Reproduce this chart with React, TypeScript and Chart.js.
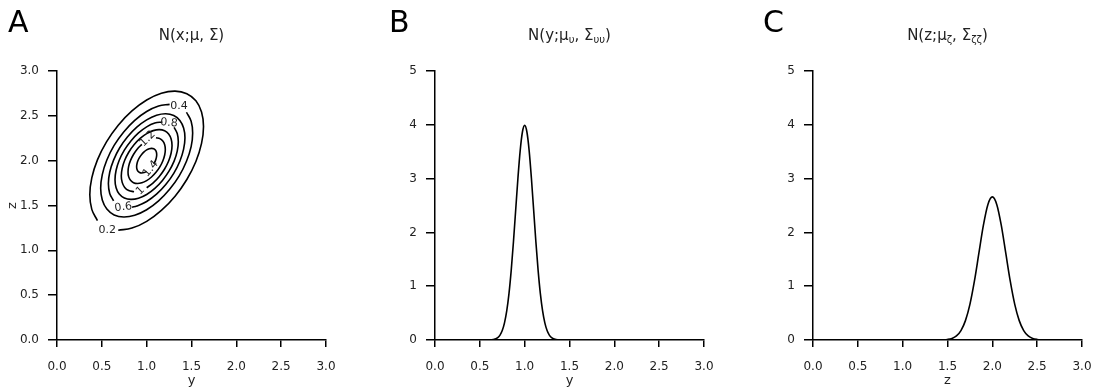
import React, { useEffect, useRef } from 'react';
import { Chart, registerables } from 'chart.js';

Chart.register(...registerables);

// ---------- tick values / labels ----------
const axisTicks = [0, 0.5, 1, 1.5, 2, 2.5, 3];
const axisTickLabels = ['0.0', '0.5', '1.0', '1.5', '2.0', '2.5', '3.0'];
const densityTicks = [0, 1, 2, 3, 4, 5];
const densityTickLabels = ['0', '1', '2', '3', '4', '5'];

// ---------- panel B: density of y ----------
const yValues = [0, 0.5, 0.6, 0.65, 0.7, 0.725, 0.75, 0.775, 0.8, 0.825, 0.85, 0.875, 0.9, 0.925, 0.95, 0.975, 1.0,
  1.025, 1.05, 1.075, 1.1, 1.125, 1.15, 1.175, 1.2, 1.225, 1.25, 1.275, 1.3, 1.35, 1.4, 1.5, 3.0];
const yDensity = [0, 0, 0.0013, 0.0087, 0.0443, 0.0909, 0.175, 0.3175, 0.54, 0.863, 1.295, 1.826, 2.42, 3.011, 3.521, 3.866, 3.989,
  3.866, 3.521, 3.011, 2.42, 1.826, 1.295, 0.863, 0.54, 0.3175, 0.175, 0.0909, 0.0443, 0.0087, 0.0013, 0, 0];

// ---------- panel C: density of z ----------
const zValues = [0, 1.3, 1.4, 1.45, 1.5, 1.55, 1.6, 1.65, 1.7, 1.75, 1.8, 1.85, 1.9, 1.95, 2.0,
  2.05, 2.1, 2.15, 2.2, 2.25, 2.3, 2.35, 2.4, 2.45, 2.5, 2.55, 2.6, 2.7, 3.0];
const zDensity = [0, 0, 0.0009, 0.0032, 0.0103, 0.0296, 0.076, 0.1748, 0.36, 0.663, 1.093, 1.613, 2.13, 2.516, 2.66,
  2.516, 2.13, 1.613, 1.093, 0.663, 0.36, 0.1748, 0.076, 0.0296, 0.0103, 0.0032, 0.0009, 0, 0];

// ---------- panel A: contour lines, [y, z] pairs ----------
const contourLevels = ['0.2', '0.4', '0.6', '0.8', '1', '1.2', '1.4'];
const contour02 = [[0.683, 1.224], [0.836, 1.248], [1.0, 1.323], [1.164, 1.445], [1.317, 1.604], [1.448, 1.79], [1.549, 1.991],
  [1.612, 2.192], [1.634, 2.38], [1.612, 2.543], [1.549, 2.668], [1.448, 2.747], [1.317, 2.776], [1.164, 2.752], [1.0, 2.677],
  [0.836, 2.555], [0.683, 2.396], [0.552, 2.21], [0.451, 2.009], [0.388, 1.808], [0.366, 1.62], [0.388, 1.457], [0.451, 1.332]];
const contour04 = [[1.256, 2.628], [1.133, 2.609], [1.0, 2.548], [0.867, 2.449], [0.744, 2.32], [0.637, 2.17], [0.556, 2.007],
  [0.505, 1.844], [0.487, 1.692], [0.505, 1.561], [0.556, 1.46], [0.637, 1.395], [0.744, 1.372], [0.867, 1.391], [1.0, 1.452],
  [1.133, 1.551], [1.256, 1.68], [1.363, 1.83], [1.444, 1.993], [1.496, 2.156], [1.513, 2.308], [1.496, 2.439], [1.444, 2.54]];
const contour06 = [[0.837, 1.481], [0.89, 1.494], [1.0, 1.545], [1.11, 1.626], [1.213, 1.734], [1.302, 1.859], [1.37, 1.994],
  [1.412, 2.129], [1.427, 2.256], [1.412, 2.365], [1.37, 2.449], [1.302, 2.503], [1.213, 2.523], [1.11, 2.506], [1.0, 2.455],
  [0.89, 2.374], [0.787, 2.266], [0.698, 2.141], [0.631, 2.006], [0.588, 1.871], [0.573, 1.744], [0.588, 1.635], [0.631, 1.551]];
const contour08 = [[1.176, 2.432], [1.091, 2.419], [1.0, 2.377], [0.909, 2.309], [0.824, 2.22], [0.751, 2.117], [0.694, 2.005],
  [0.659, 1.893], [0.647, 1.788], [0.659, 1.698], [0.694, 1.628], [0.751, 1.584], [0.824, 1.568], [0.909, 1.581], [1.0, 1.623],
  [1.091, 1.691], [1.176, 1.78], [1.249, 1.883], [1.306, 1.995], [1.341, 2.107], [1.353, 2.212], [1.341, 2.302], [1.306, 2.372]];
const contour10 = [[1.0, 1.698], [1.073, 1.752], [1.141, 1.823], [1.2, 1.907], [1.245, 1.996], [1.273, 2.086], [1.283, 2.17],
  [1.273, 2.242], [1.245, 2.298], [1.2, 2.333], [1.141, 2.346], [1.073, 2.335], [1.0, 2.302], [0.927, 2.248], [0.859, 2.177],
  [0.8, 2.094], [0.755, 2.004], [0.727, 1.914], [0.717, 1.83], [0.727, 1.758], [0.755, 1.702], [0.8, 1.667], [0.859, 1.654]];
const contour12 = [[0.946, 2.182], [0.896, 2.13], [0.853, 2.069], [0.82, 2.003], [0.799, 1.937], [0.792, 1.875], [0.799, 1.822],
  [0.82, 1.781], [0.853, 1.754], [0.896, 1.745], [0.946, 1.753], [1.0, 1.778], [1.054, 1.818], [1.104, 1.87], [1.147, 1.931],
  [1.18, 1.997], [1.201, 2.063], [1.208, 2.125], [1.201, 2.178], [1.18, 2.219], [1.147, 2.246], [1.104, 2.255]];
const contour14 = [[1.079, 1.963], [1.097, 1.998], [1.108, 2.034], [1.112, 2.067], [1.108, 2.096], [1.097, 2.118], [1.079, 2.132],
  [1.056, 2.137], [1.029, 2.133], [1.0, 2.12], [0.971, 2.098], [0.944, 2.07], [0.921, 2.037], [0.903, 2.002], [0.892, 1.966],
  [0.888, 1.933], [0.892, 1.904], [0.903, 1.882], [0.921, 1.868], [0.944, 1.863], [0.971, 1.867], [1.0, 1.88]];
const contourLines = [contour02, contour04, contour06, contour08, contour10, contour12, contour14];

// where each contour's label sits (y, z) and its rotation in degrees
const contourLabelY = [0.56, 1.36, 0.74, 1.25, 0.93, 1.01, 1.045];
const contourLabelZ = [1.23, 2.61, 1.48, 2.42, 1.665, 2.245, 1.91];
const contourLabelAngle = [0, 0, -8, 5, -45, -45, -50];

// ---------- styling ----------
const FONT = '"DejaVu Sans", "Liberation Sans", sans-serif';
const INK = '#000';
const TEXT = '#222';

type Seg = { text: string; sub?: boolean };

const titleA: Seg[] = [{ text: 'N(x;μ, Σ)' }];
const titleB: Seg[] = [{ text: 'N(y;μ' }, { text: 'υ', sub: true }, { text: ', Σ' }, { text: 'υυ', sub: true }, { text: ')' }];
const titleC: Seg[] = [{ text: 'N(z;μ' }, { text: 'ζ', sub: true }, { text: ', Σ' }, { text: 'ζζ', sub: true }, { text: ')' }];

type PanelDef = {
  letter: string;
  letterX: number;
  title: Seg[];
  plotLeft: number;
  plotRight: number;
  xTitle: string;
  yTitle?: string;
  yMax: number;
  yTicks: number[];
  yTickLabels: string[];
  datasets: any[];
  contourText?: boolean;
};

const CANVAS_W = 365;
const CANVAS_H = 391;
const PLOT_TOP = 71;
const PLOT_BOTTOM = 340;

function textPlugin(def: PanelDef) {
  return {
    id: 'panelText' + def.letter,
    afterDraw(chart: any) {
      const ctx = chart.ctx as CanvasRenderingContext2D;
      const area = chart.chartArea;
      ctx.save();
      ctx.fillStyle = INK;
      ctx.textAlign = 'left';
      ctx.textBaseline = 'alphabetic';
      ctx.font = `30px ${FONT}`;
      ctx.fillText(def.letter, def.letterX, 32);

      const mainFont = `15px ${FONT}`;
      const subFont = `10px ${FONT}`;
      let total = 0;
      for (const s of def.title) {
        ctx.font = s.sub ? subFont : mainFont;
        total += ctx.measureText(s.text).width;
      }
      let x = (area.left + area.right) / 2 - total / 2;
      ctx.fillStyle = TEXT;
      for (const s of def.title) {
        ctx.font = s.sub ? subFont : mainFont;
        ctx.fillText(s.text, x, s.sub ? 43 : 40);
        x += ctx.measureText(s.text).width;
      }

      if (def.contourText) {
        const xs = chart.scales.x;
        const ys = chart.scales.y;
        ctx.font = `11px ${FONT}`;
        ctx.textAlign = 'center';
        ctx.textBaseline = 'middle';
        contourLevels.forEach((lab, i) => {
          const px = xs.getPixelForValue(contourLabelY[i]);
          const py = ys.getPixelForValue(contourLabelZ[i]);
          ctx.save();
          ctx.translate(px, py);
          ctx.rotate((contourLabelAngle[i] * Math.PI) / 180);
          ctx.fillText(lab, 0, 0);
          ctx.restore();
        });
      }
      ctx.restore();
    },
  };
}

function makeConfig(def: PanelDef): any {
  const tickFont = { family: FONT, size: 12 };
  return {
    type: 'scatter',
    data: { datasets: def.datasets },
    options: {
      responsive: false,
      animation: false,
      events: [],
      layout: { padding: { left: 0, top: PLOT_TOP, right: CANVAS_W - def.plotRight, bottom: 0 } },
      plugins: { legend: { display: false }, tooltip: { enabled: false }, title: { display: false } },
      elements: { point: { radius: 0 } },
      scales: {
        x: {
          type: 'linear',
          min: 0,
          max: 3,
          afterBuildTicks: (s: any) => {
            s.ticks = axisTicks.map((value) => ({ value }));
          },
          afterFit: (s: any) => {
            s.height = CANVAS_H - PLOT_BOTTOM;
            s.paddingLeft = 0;
            s.paddingRight = 0;
          },
          ticks: {
            callback: (_v: any, i: number) => axisTickLabels[i],
            font: tickFont,
            color: TEXT,
            padding: 13,
            maxRotation: 0,
            autoSkip: false,
          },
          grid: { display: true, drawOnChartArea: false, drawTicks: true, tickLength: 7, color: INK, lineWidth: 1.5 },
          border: { display: true, color: INK, width: 1.5 },
          title: { display: true, text: def.xTitle, font: { family: FONT, size: 13 }, color: TEXT, padding: { top: 0, bottom: 3 } },
        },
        y: {
          type: 'linear',
          min: 0,
          max: def.yMax,
          afterBuildTicks: (s: any) => {
            s.ticks = def.yTicks.map((value) => ({ value }));
          },
          afterFit: (s: any) => {
            s.width = def.plotLeft;
            s.paddingTop = 0;
            s.paddingBottom = 0;
          },
          ticks: {
            callback: (_v: any, i: number) => def.yTickLabels[i],
            font: tickFont,
            color: TEXT,
            padding: 9,
            autoSkip: false,
          },
          grid: { display: true, drawOnChartArea: false, drawTicks: true, tickLength: 9, color: INK, lineWidth: 1.5 },
          border: { display: true, color: INK, width: 1.5 },
          title: def.yTitle
            ? { display: true, text: def.yTitle, font: { family: FONT, size: 13 }, color: TEXT, padding: { top: 5, bottom: 0 } }
            : { display: false },
        },
      },
    },
    plugins: [textPlugin(def)],
  };
}

const lineStyle = {
  showLine: true,
  borderColor: INK,
  borderWidth: 1.6,
  pointRadius: 0,
  fill: false,
};

const panels: PanelDef[] = [
  {
    letter: 'A',
    letterX: 8,
    title: titleA,
    plotLeft: 57,
    plotRight: 326,
    xTitle: 'y',
    yTitle: 'z',
    yMax: 3,
    yTicks: axisTicks,
    yTickLabels: axisTickLabels,
    contourText: true,
    datasets: contourLines.map((pts, i) => ({
      ...lineStyle,
      label: contourLevels[i],
      tension: 0.4,
      data: pts.map(([y, z]) => ({ x: y, y: z })),
    })),
  },
  {
    letter: 'B',
    letterX: 24,
    title: titleB,
    plotLeft: 70,
    plotRight: 339,
    xTitle: 'y',
    yMax: 5,
    yTicks: densityTicks,
    yTickLabels: densityTickLabels,
    datasets: [
      {
        ...lineStyle,
        cubicInterpolationMode: 'monotone',
        data: yValues.map((v, i) => ({ x: v, y: yDensity[i] })),
      },
    ],
  },
  {
    letter: 'C',
    letterX: 33,
    title: titleC,
    plotLeft: 83,
    plotRight: 352,
    xTitle: 'z',
    yMax: 5,
    yTicks: densityTicks,
    yTickLabels: densityTickLabels,
    datasets: [
      {
        ...lineStyle,
        cubicInterpolationMode: 'monotone',
        data: zValues.map((v, i) => ({ x: v, y: zDensity[i] })),
      },
    ],
  },
];

function Panel({ def, left }: { def: PanelDef; left: number }) {
  const ref = useRef<HTMLCanvasElement | null>(null);
  useEffect(() => {
    if (!ref.current) return;
    const chart = new Chart(ref.current, makeConfig(def));
    return () => chart.destroy();
  }, [def]);
  return (
    <canvas
      ref={ref}
      width={CANVAS_W}
      height={CANVAS_H}
      style={{ position: 'absolute', left, top: 0, width: CANVAS_W, height: CANVAS_H }}
    />
  );
}

export default function App() {
  return (
    <div style={{ position: 'absolute', left: 0, top: 0, width: 1095, height: 391, background: '#fff', overflow: 'hidden' }}>
      {panels.map((p, i) => (
        <Panel key={p.letter} def={p} left={i * 365} />
      ))}
    </div>
  );
}
